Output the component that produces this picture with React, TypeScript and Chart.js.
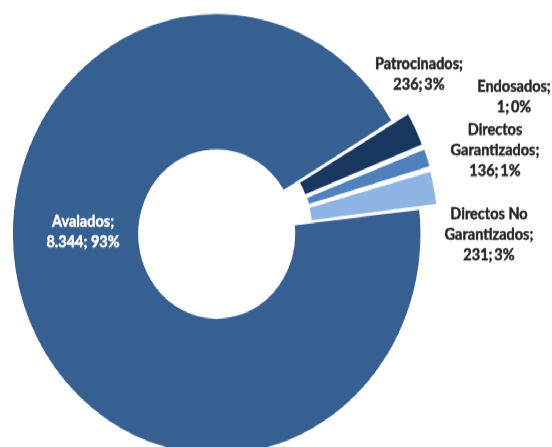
import React, { useEffect, useRef } from "react";
import { Chart, registerables } from "chart.js";

Chart.register(...registerables);

// ---- data ----
const categories = ["Avalados", "Patrocinados", "Endosados", "Directos Garantizados", "Directos No Garantizados"];
const values = [8344, 236, 1, 136, 231];
const percentLabels = ["93%", "3%", "0%", "1%", "3%"];
// how each category name is broken into lines in its label
const nameLines = [["Avalados;"], ["Patrocinados;"], ["Endosados;"], ["Directos", "Garantizados;"], ["Directos No", "Garantizados;"]];

// ---- styles ----
const colors = ["#376092", "#17375E", "#1F497D", "#4F81BD", "#8EB4E3"];
const explode = [0, 38, 38, 38, 38];
const textColors = ["#FFFFFF", "#262626", "#262626", "#262626", "#262626"];
// label anchors (centre x, first baseline y) in canvas units
const labelAnchors = [
  { x: 83, y: 209.5 },
  { x: 419, y: 64 },
  { x: 514, y: 85 },
  { x: 495, y: 124.5 },
  { x: 489, y: 203 },
];
const LINE_H = 19;
const FONT = "bold 14.5px Lato";

const W = 552;
const H = 414;
const STRETCH = 447 / 414;

function fmt(v: number): string {
  const s = String(v);
  return s.replace(/\B(?=(\d{3})+(?!\d))/g, ".");
}

const labelsPlugin = {
  id: "sliceLabels",
  afterDatasetsDraw(chart: any) {
    const ctx = chart.ctx;
    ctx.save();
    ctx.font = FONT;
    ctx.textAlign = "center";
    ctx.textBaseline = "alphabetic";
    ctx.lineWidth = 0.45;
    ctx.lineJoin = "round";
    categories.forEach((_, i) => {
      const sep = i === 0 ? "; " : ";\u2009";
      const lines = [...nameLines[i], fmt(values[i]) + sep + percentLabels[i]];
      const a = labelAnchors[i];
      ctx.fillStyle = textColors[i];
      ctx.strokeStyle = textColors[i];
      lines.forEach((t, k) => {
        ctx.fillText(t, a.x, a.y + k * LINE_H);
        ctx.strokeText(t, a.x, a.y + k * LINE_H);
      });
    });
    ctx.restore();
  },
};

export default function App() {
  const ref = useRef<HTMLCanvasElement | null>(null);
  useEffect(() => {
    if (!ref.current) return;
    const chart = new Chart(ref.current, {
      type: "doughnut",
      data: {
        labels: categories,
        datasets: [
          {
            data: values,
            backgroundColor: colors,
            borderColor: "#FFFFFF",
            borderWidth: 1.5,
            offset: explode,
            clip: false,
          } as any,
        ],
      },
      options: {
        animation: false,
        responsive: true,
        maintainAspectRatio: false,
        rotation: 83.5,
        cutout: "38%",
        radius: 204.5,
        layout: { padding: { left: 0, right: 118.6, top: 19.4, bottom: 0 } },
        plugins: { legend: { display: false }, tooltip: { enabled: false } },
      } as any,
      plugins: [labelsPlugin],
    });
    return () => chart.destroy();
  }, []);
  return (
    <div
      style={{
        position: "absolute",
        left: 0,
        top: 0,
        width: W,
        height: H,
        transform: `scaleY(${STRETCH})`,
        transformOrigin: "0 0",
        background: "#FFFFFF",
      }}
    >
      <canvas ref={ref} />
    </div>
  );
}
